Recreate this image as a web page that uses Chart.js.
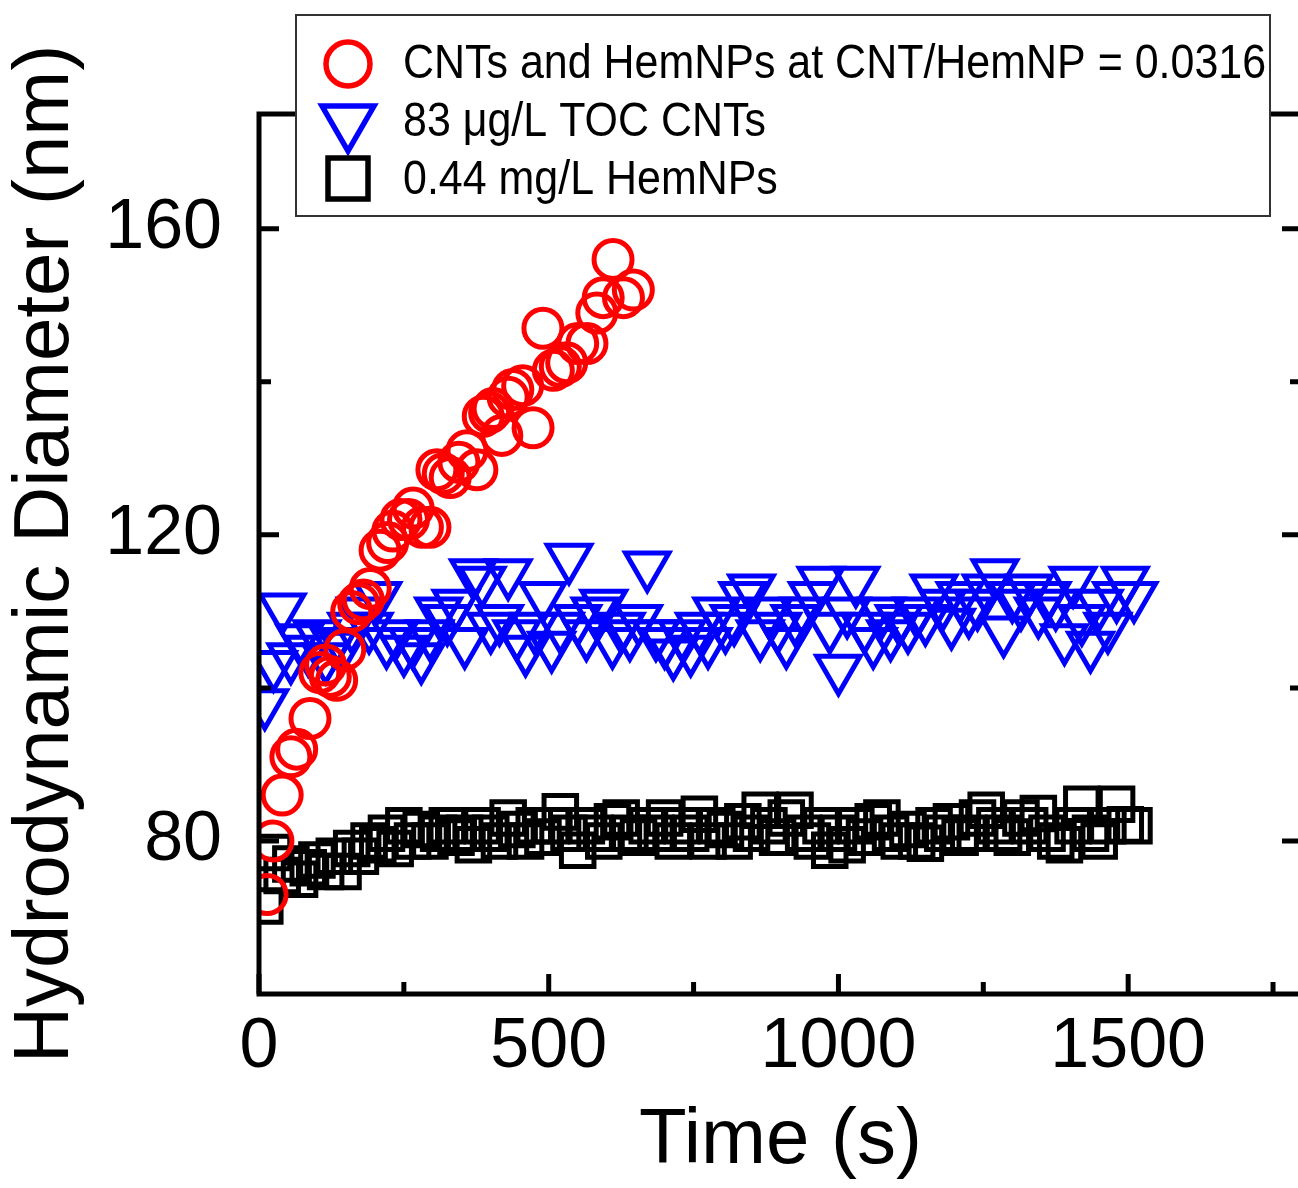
<!DOCTYPE html>
<html>
<head>
<meta charset="utf-8">
<script src="https://cdn.jsdelivr.net/npm/chart.js@4.4.0/dist/chart.umd.min.js"></script>
<style>
  html, body { margin: 0; padding: 0; background: #fff; overflow: hidden; }
  #wrap { width: 1340px; height: 1188px; }
</style>
</head>
<body>
<div id="wrap"><canvas id="chart" width="1340" height="1188"></canvas></div>
<script>
// mixture: CNTs + HemNPs
const mixTime = [14, 24, 40, 55, 65, 88, 105, 115, 123, 134, 148, 160, 172, 180, 192, 209, 222, 231, 245, 258,
  266, 282, 295, 307, 318, 330, 345, 359, 376, 387, 398, 404, 419, 430, 438, 455, 473, 490, 508, 520,
  531, 550, 566, 583, 594, 611, 629, 646];
const mixSize = [73, 80, 86, 91, 92, 96, 102, 103, 101.5, 101, 105, 110, 111, 111.5, 113, 118, 119, 120.5, 122, 122,
  123.5, 121, 121, 128.5, 128, 127.5, 129.5, 131, 128.5, 135.5, 136, 136.5, 133, 138, 139, 139.5, 134, 147, 141.5, 142,
  142.5, 145, 145, 149, 151, 156, 151, 152];

// CNTs alone and HemNPs alone share the same sampling times
const baseTime = [10, 25, 40, 55, 70, 85, 100, 115, 130, 145, 160, 175, 190, 205, 220, 235, 250, 265, 280, 295,
  310, 325, 340, 355, 370, 385, 400, 415, 430, 445, 460, 475, 490, 505, 520, 535, 550, 565, 580, 595,
  610, 625, 640, 655, 670, 685, 700, 715, 730, 745, 760, 775, 790, 805, 820, 835, 850, 865, 880, 895,
  910, 925, 940, 955, 970, 985, 1000, 1015, 1030, 1045, 1060, 1075, 1090, 1105, 1120, 1135, 1150, 1165, 1180, 1195,
  1210, 1225, 1240, 1255, 1270, 1285, 1300, 1315, 1330, 1345, 1360, 1375, 1390, 1405, 1420, 1435, 1450, 1465, 1480, 1495, 1510];
const cntSize = [98, 103, 110.5, 104, 106.5, 105, 107, 104, 106, 105.5, 108, 110, 108, 112, 106, 107, 105, 106, 104, 107,
  110, 109, 111, 106, 115, 114, 108, 109, 115, 107, 105, 108, 112, 105.5, 108, 117, 109, 107, 110, 111,
  106, 108, 107, 109, 116, 107, 106, 104.5, 107, 105, 108, 106, 110, 108, 109, 112, 113, 107, 110, 108,
  106, 109, 110, 112, 114, 108, 102.5, 110, 114, 108, 106, 110, 107, 109, 108, 110, 109, 113, 111, 108.5,
  112, 110, 111, 113, 115, 107.5, 112, 111, 113, 110, 112, 111, 106.5, 114, 109, 105.5, 111, 108, 112, 114, 112];
const hemSize = [71.5, 78.5, 75.5, 77, 75, 76.5, 77.5, 76, 78, 76, 79, 78, 80, 79.5, 81, 79, 82, 80, 81.5, 80,
  81, 82, 80.5, 81, 79.5, 82, 81, 80, 83, 81.5, 80, 82, 80.5, 82, 83.8, 81, 78.8, 82, 81, 80,
  82.5, 83, 81, 80.5, 82, 81, 83, 80, 82, 81, 83.5, 80, 82, 81.5, 80, 82.5, 81, 84, 82, 80.5,
  83, 84, 81, 80, 82, 78.8, 81, 79.5, 82, 80.5, 82.5, 83, 81, 80, 81.5, 80, 79.7, 82, 81, 82.5,
  80.5, 81, 83, 84, 82, 81, 80.5, 83, 82, 83.6, 81, 80, 79.5, 82, 84.8, 81, 80, 82, 84.8, 82.1, 82];

const seriesLabels = ['CNTs and HemNPs at CNT/HemNP = 0.0316', '83 \u03bcg/L TOC CNTs', '0.44 mg/L HemNPs'];
const xTickLabels = [0, 500, 1000, 1500];
const xMinorTicks = [250, 750, 1250, 1750];
const yTickLabels = [80, 120, 160];
const yMinorTicks = [100, 140];

const FONT = "'Liberation Sans', Arial, sans-serif";

function toPoints(xs, ys) {
  return xs.map((x, i) => ({ x: x, y: ys[i] }));
}

// axes box with inward ticks, drawn from the scales
const framePlugin = {
  id: 'frame',
  afterDatasetsDraw(chart) {
    const { ctx, chartArea: a, scales: { x, y } } = chart;
    ctx.save();
    ctx.strokeStyle = '#000';
    ctx.lineWidth = 5;
    ctx.lineCap = 'square';
    ctx.strokeRect(a.left, a.top, a.right - a.left, a.bottom - a.top);
    ctx.lineCap = 'butt';
    ctx.beginPath();
    xTickLabels.concat(xMinorTicks).forEach(v => {
      const len = xTickLabels.includes(v) ? 20 : 12;
      const px = x.getPixelForValue(v);
      ctx.moveTo(px, a.bottom);
      ctx.lineTo(px, a.bottom - len);
    });
    yTickLabels.concat(yMinorTicks).forEach(v => {
      const len = yTickLabels.includes(v) ? 20 : 12;
      const py = y.getPixelForValue(v);
      ctx.moveTo(a.left, py);
      ctx.lineTo(a.left + len, py);
      ctx.moveTo(a.right, py);
      ctx.lineTo(a.right - len, py);
    });
    ctx.stroke();
    ctx.restore();
  }
};

// boxed legend in the top left, over the top axis
const legendPlugin = {
  id: 'boxLegend',
  afterDraw(chart) {
    const ctx = chart.ctx;
    ctx.save();
    ctx.fillStyle = '#fff';
    ctx.fillRect(296, 15, 974, 201);
    ctx.strokeStyle = '#333';
    ctx.lineWidth = 2;
    ctx.strokeRect(296, 15, 974, 201);

    const rows = [65, 123, 181];
    const sx = 348;
    ctx.lineWidth = 5.5;
    // circle
    ctx.strokeStyle = '#ff0000';
    ctx.beginPath();
    ctx.arc(sx, rows[0] - 1, 22, 0, Math.PI * 2);
    ctx.stroke();
    // down triangle
    ctx.strokeStyle = '#0000ff';
    const r = 30, cy = 121;
    ctx.beginPath();
    ctx.moveTo(sx - r * Math.sin(Math.PI / 3), cy - r / 2);
    ctx.lineTo(sx + r * Math.sin(Math.PI / 3), cy - r / 2);
    ctx.lineTo(sx, cy + r);
    ctx.closePath();
    ctx.stroke();
    // square
    ctx.strokeStyle = '#000';
    ctx.strokeRect(sx - 20, 178 - 20, 40, 41);

    ctx.fillStyle = '#000';
    ctx.font = '48px ' + FONT;
    ctx.textBaseline = 'middle';
    rows.forEach((ry, i) => {
      ctx.save();
      ctx.translate(403, ry);
      ctx.scale(0.895, 1);
      ctx.fillText(seriesLabels[i], 0, 0);
      ctx.restore();
    });
    ctx.restore();
  }
};

new Chart(document.getElementById('chart'), {
  type: 'scatter',
  data: {
    datasets: [
      {
        label: seriesLabels[0],
        data: toPoints(mixTime, mixSize),
        pointStyle: 'circle',
        pointRadius: 19,
        pointBorderWidth: 5,
        pointBorderColor: '#ff0000',
        pointBackgroundColor: 'rgba(0,0,0,0)',
        clip: 0
      },
      {
        label: seriesLabels[1],
        data: toPoints(baseTime, cntSize),
        pointStyle: 'triangle',
        rotation: 180,
        pointRadius: 25,
        pointBorderWidth: 5,
        pointBorderColor: '#0000ff',
        pointBackgroundColor: 'rgba(0,0,0,0)',
        clip: 0
      },
      {
        label: seriesLabels[2],
        data: toPoints(baseTime, hemSize),
        pointStyle: 'rect',
        pointRadius: 23,
        pointBorderWidth: 5,
        pointBorderColor: '#000000',
        pointBackgroundColor: 'rgba(0,0,0,0)',
        clip: 0
      }
    ]
  },
  options: {
    responsive: false,
    animation: false,
    devicePixelRatio: 1,
    layout: { padding: { top: 114, right: 38, left: 0, bottom: 0 } },
    plugins: { legend: { display: false }, tooltip: { enabled: false } },
    scales: {
      x: {
        type: 'linear',
        min: 0,
        max: 1800,
        afterBuildTicks: s => { s.ticks = xTickLabels.map(v => ({ value: v })); },
        afterFit: s => { s.height = 194; },
        grid: { display: false, drawTicks: false },
        border: { display: false },
        ticks: { autoSkip: false, maxRotation: 0, padding: 12, color: '#000', font: { family: FONT, size: 70 },
          callback: v => String(v) },
        title: { display: true, text: 'Time (s)', color: '#000', padding: { top: 0, bottom: 0 }, font: { family: FONT, size: 78 } }
      },
      y: {
        type: 'linear',
        min: 60,
        max: 175,
        afterBuildTicks: s => { s.ticks = yTickLabels.map(v => ({ value: v })); },
        afterFit: s => { s.width = 259; },
        grid: { display: false, drawTicks: false },
        border: { display: false },
        ticks: { autoSkip: false, padding: 37, color: '#000', font: { family: FONT, size: 70 },
          callback: v => String(v) },
        title: { display: true, text: 'Hydrodynamic Diameter (nm)', color: '#000', padding: { top: 0, bottom: 0 }, font: { family: FONT, size: 78 } }
      }
    }
  },
  plugins: [framePlugin, legendPlugin]
});
</script>
</body>
</html>
